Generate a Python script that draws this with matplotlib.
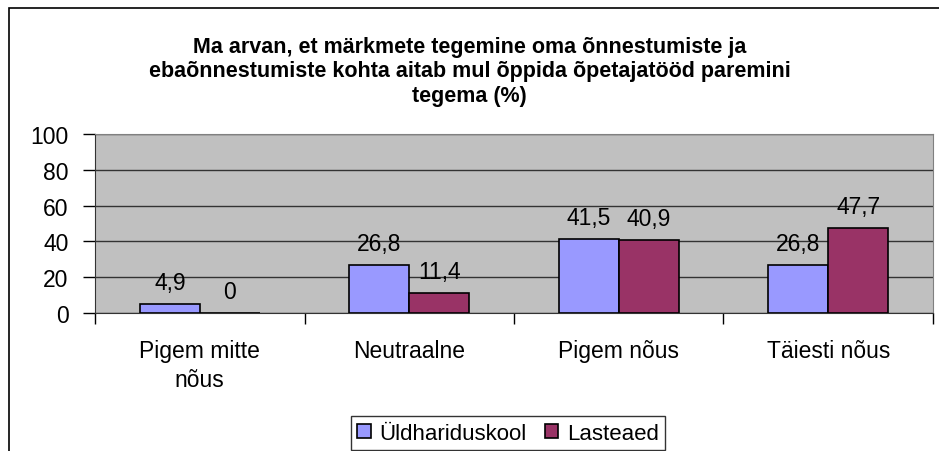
import matplotlib.pyplot as plt
import numpy as np
from matplotlib.patches import Rectangle

categories = ['Pigem mitte\nnõus', 'Neutraalne', 'Pigem nõus', 'Täiesti nõus']
yldharidus = [4.9, 26.8, 41.5, 26.8]
lasteaed = [0, 11.4, 40.9, 47.7]
labels_yld = ['4,9', '26,8', '41,5', '26,8']
labels_las = ['0', '11,4', '40,9', '47,7']

plt.rcParams['font.family'] = ['Liberation Sans', 'DejaVu Sans']

fig = plt.figure(figsize=(9.39, 4.52), dpi=100)
ax = fig.add_axes([95/939, 1-314/452, (933-95)/939, (314-135)/452])

# outer chart border (cut off at right and bottom)
fig.patches.append(Rectangle((9/939, -0.1), 1.0, 1-9/452+0.1, transform=fig.transFigure,
                             fill=False, edgecolor='black', linewidth=1.2))

barWidth = 1/3.5
x = np.arange(len(categories))
ax.bar(x - barWidth/2, yldharidus, width=barWidth, color='#9999FF', edgecolor='black', linewidth=1.2, label='Üldhariduskool', zorder=3)
ax.bar(x + barWidth/2, lasteaed, width=barWidth, color='#993366', edgecolor='black', linewidth=1.2, label='Lasteaed', zorder=3)

# data labels above the bars
for i in range(len(categories)):
    ax.text(x[i] - barWidth/2, yldharidus[i] + 12, labels_yld[i], ha='center', va='center', fontsize=16.5)
    ax.text(x[i] + barWidth/2, lasteaed[i] + 12, labels_las[i], ha='center', va='center', fontsize=16.5)

ax.set_facecolor('#C0C0C0')
ax.set_xlim(-0.5, 3.5)
ax.set_ylim(0, 100)
ax.set_yticks([0, 20, 40, 60, 80, 100])
ax.yaxis.grid(True, color='#333333', linewidth=1.0, zorder=0)
ax.set_axisbelow(True)
ax.tick_params(axis='y', labelsize=16.5, length=9, width=1, direction='out', pad=10)
ax.set_xticks(x)
ax.set_xticklabels(categories, fontsize=16.5, linespacing=1.3)
ax.tick_params(axis='x', length=0, pad=19)
ax.set_xticks([-0.5, 0.5, 1.5, 2.5, 3.5], minor=True)
ax.tick_params(axis='x', which='minor', length=8, width=1, direction='out')
ax.spines['top'].set_color('#808080')
ax.spines['right'].set_color('#808080')
ax.spines['left'].set_color('#333333')
ax.spines['bottom'].set_color('#333333')

fig.text(0.5, 1-72/452, 'Ma arvan, et märkmete tegemine oma õnnestumiste ja\n'
         'ebaõnnestumiste kohta aitab mul õppida õpetajatööd paremini\ntegema (%)',
         ha='center', va='center', fontsize=15.5, fontweight='bold', linespacing=1.22)

fig.legend(loc='upper center', bbox_to_anchor=(508/939, 1-417/452), ncol=2, fontsize=16,
           frameon=True, fancybox=False, edgecolor='black', borderpad=0.3,
           handlelength=0.6, handleheight=0.6, handletextpad=0.4, columnspacing=0.8,
           borderaxespad=0)

fig.savefig('out.png', dpi=100)
